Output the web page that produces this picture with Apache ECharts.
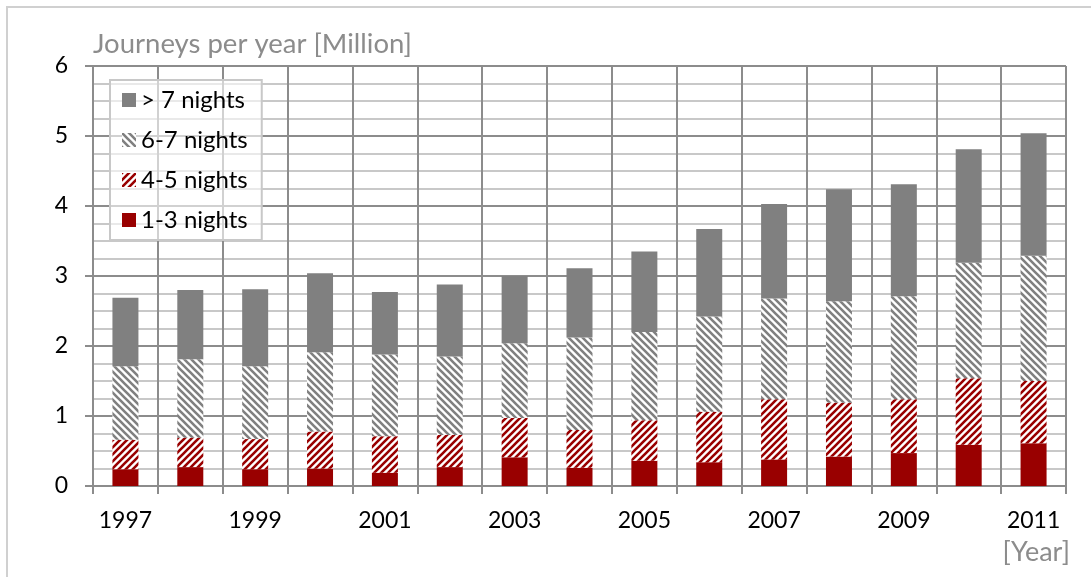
<!DOCTYPE html>
<html>
<head>
<meta charset="utf-8">
<script src="https://cdn.jsdelivr.net/npm/echarts@6/dist/echarts.min.js"></script>
<style>
html,body{margin:0;padding:0;background:#fff;}
#chart{width:1091px;height:577px;}
</style>
</head>
<body>
<div id="chart"></div>
<script>
// ---- Data ----
const years = ['1997','1998','1999','2000','2001','2002','2003','2004','2005','2006','2007','2008','2009','2010','2011'];
const nights1to3 = [0.24,0.27,0.24,0.25,0.19,0.27,0.41,0.26,0.36,0.34,0.38,0.42,0.47,0.59,0.61];
const nights4to5 = [0.42,0.42,0.43,0.53,0.52,0.46,0.56,0.54,0.58,0.72,0.86,0.77,0.77,0.95,0.89];
const nights6to7 = [1.05,1.12,1.04,1.13,1.17,1.12,1.07,1.32,1.26,1.36,1.44,1.45,1.47,1.65,1.79];
const nightsOver7 = [0.98,0.99,1.10,1.13,0.89,1.03,0.96,0.99,1.15,1.25,1.35,1.60,1.60,1.62,1.75];
const seriesNames = ['1-3 nights','4-5 nights','6-7 nights','> 7 nights'];
const yTicks = [0,1,2,3,4,5,6];

const FONT = 'Lato';
const RED = '#990000';
const GRAY = '#808080';
const GRID_DARK = '#8c8c8c';
const GRID_LIGHT = '#c8c8c8';

function makeHatch(color, dir){
  const s = 7;
  const c = document.createElement('canvas');
  c.width = s; c.height = s;
  const g = c.getContext('2d');
  g.fillStyle = '#ffffff';
  g.fillRect(0,0,s,s);
  g.strokeStyle = color;
  g.lineWidth = 2.6;
  g.beginPath();
  for (let k=-1;k<=1;k++){
    if (dir === '/'){
      g.moveTo(k*s-1, s+1); g.lineTo(k*s+s+1, -1);
    } else {
      g.moveTo(k*s-1, -1); g.lineTo(k*s+s+1, s+1);
    }
  }
  g.stroke();
  return c;
}

const redHatch = {image: makeHatch(RED,'/'), repeat:'repeat'};
const grayHatch = {image: makeHatch(GRAY,'\\'), repeat:'repeat'};

const chart = echarts.init(document.getElementById('chart'), null, {renderer:'canvas'});

const seriesData = [nights1to3, nights4to5, nights6to7, nightsOver7];
const fills = [RED, redHatch, grayHatch, GRAY];

chart.setOption({
  animation:false,
  backgroundColor:'#ffffff',
  grid:{left:93, right:25, top:66, bottom:91, containLabel:false},
  legend:{
    orient:'vertical',
    left:110, top:80,
    data:['> 7 nights','6-7 nights','4-5 nights','1-3 nights'],
    itemWidth:14, itemHeight:14,
    itemGap:16,
    padding:[8,14,8,12],
    borderColor:'#c8c8c8', borderWidth:2,
    backgroundColor:'rgba(255,255,255,0.6)',
    textStyle:{fontFamily:FONT, fontSize:24, color:'#000'},
    icon:'rect'
  },
  xAxis:{
    type:'category',
    data:years,
    boundaryGap:true,
    axisLine:{show:true, lineStyle:{color:GRID_DARK, width:2}},
    axisTick:{show:true, alignWithLabel:false, interval:0, length:8, lineStyle:{color:GRID_DARK, width:2}},
    axisLabel:{interval:1, fontFamily:FONT, fontSize:23, color:'#000', margin:23},
    splitLine:{show:true, interval:0, lineStyle:{color:GRID_DARK, width:2}}
  },
  yAxis:{
    type:'value',
    min:yTicks[0], max:yTicks[yTicks.length-1], interval:1,
    name:'Journeys per year [Million]',
    nameLocation:'end',
    nameGap:8,
    nameTextStyle:{fontFamily:FONT, fontSize:27.5, color:'#8c8c8c', align:'left', padding:[0,0,0,0]},
    axisLine:{show:true, lineStyle:{color:GRID_DARK, width:2}},
    axisTick:{show:true, length:8, lineStyle:{color:GRID_DARK, width:2}},
    axisLabel:{fontFamily:FONT, fontSize:23, color:'#000', margin:25},
    splitLine:{show:true, lineStyle:{color:GRID_DARK, width:2}},
    minorTick:{show:false, splitNumber:4},
    minorSplitLine:{show:true, lineStyle:{color:GRID_LIGHT, width:2}}
  },
  graphic:[
    {type:'rect', shape:{x:7, y:7, width:1200, height:700}, style:{fill:'none', stroke:'#d0d0d0', lineWidth:2}, silent:true, z:-1},
    {type:'text', right:21, top:539, style:{text:'[Year]', fontFamily:FONT, fontSize:27, fill:'#8c8c8c'}}
  ],
  series: seriesNames.map((n,i)=>({
    name:n,
    type:'bar',
    stack:'total',
    barWidth:26,
    data:seriesData[i],
    itemStyle:{color:fills[i]},
    emphasis:{disabled:true}
  }))
});
</script>
</body>
</html>
